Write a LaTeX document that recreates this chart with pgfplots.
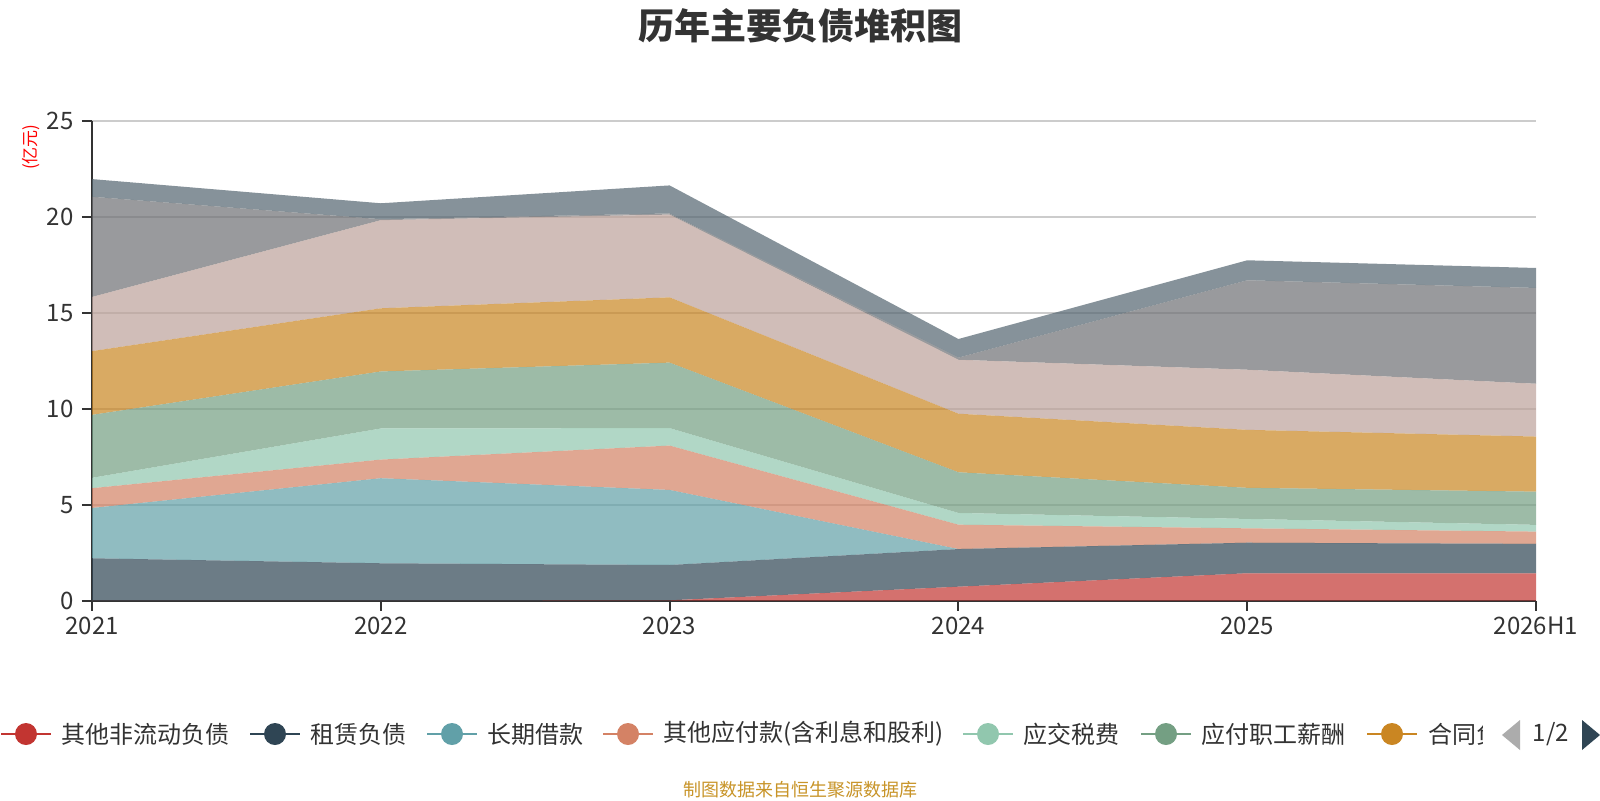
\documentclass[border=0pt]{standalone}
\usepackage{fontspec}
\setmainfont{Noto Sans CJK SC}
\usepackage{pgfplots}
\pgfplotsset{compat=1.18}
\definecolor{s1}{HTML}{C23531}
\definecolor{s2}{HTML}{2F4554}
\definecolor{s3}{HTML}{61A0A8}
\definecolor{s4}{HTML}{D48265}
\definecolor{s5}{HTML}{91C7AE}
\definecolor{s6}{HTML}{749F83}
\definecolor{s7}{HTML}{CA8622}
\definecolor{s8}{HTML}{BDA29A}
\definecolor{s9}{HTML}{6E7074}
\definecolor{s10}{HTML}{546570}
\definecolor{txt}{HTML}{333333}
\definecolor{gridc}{HTML}{CCCCCC}
\definecolor{foot}{RGB}{200,148,40}
\begin{document}
\begin{tikzpicture}
\path[fill=white] (0,0) rectangle (800pt,-400pt);
\path[use as bounding box] (0,0) rectangle (800pt,-400pt);
\begin{axis}[
  at={(46pt,-300.35pt)}, anchor=south west,
  scale only axis, width=722pt, height=240pt,
  xmin=0, xmax=5, ymin=0, ymax=25,
  xtick={0,1,2,3,4,5},
  xticklabels={2021,2022,2023,2024,2025,2026H1},
  ytick={0,5,10,15,20,25},
  axis x line*=bottom, axis y line*=left,
  axis line style={draw=txt, line width=1pt, -},
  tick align=outside, major tick length=5pt,
  tick style={draw=txt, line width=1pt},
  ymajorgrids, grid style={draw=gridc, line width=1pt},
  /pgf/number format/assume math mode=true,
  tick label style={font=\fontsize{12pt}{14pt}\selectfont, text=txt},
  yticklabel style={anchor=east, inner sep=0pt, xshift=-4pt},
  xticklabel style={anchor=north, inner sep=0pt, yshift=-3pt},
  stack plots=y,
  every axis plot/.append style={draw=none, fill opacity=0.7},
]
\addplot[fill=s1] coordinates {(0,0) (1,0) (2,0.02) (3,0.73) (4,1.43) (5,1.43)} \closedcycle;
\addplot[fill=s2] coordinates {(0,2.21) (1,1.95) (2,1.84) (3,1.96) (4,1.59) (5,1.53)} \closedcycle;
\addplot[fill=s3] coordinates {(0,2.62) (1,4.43) (2,3.91) (3,0) (4,0) (5,0)} \closedcycle;
\addplot[fill=s4] coordinates {(0,1.03) (1,0.97) (2,2.31) (3,1.27) (4,0.75) (5,0.64)} \closedcycle;
\addplot[fill=s5] coordinates {(0,0.54) (1,1.62) (2,0.91) (3,0.61) (4,0.49) (5,0.35)} \closedcycle;
\addplot[fill=s6] coordinates {(0,3.28) (1,2.97) (2,3.41) (3,2.12) (4,1.62) (5,1.73)} \closedcycle;
\addplot[fill=s7] coordinates {(0,3.32) (1,3.29) (2,3.40) (3,3.05) (4,3.02) (5,2.87)} \closedcycle;
\addplot[fill=s8] coordinates {(0,2.82) (1,4.59) (2,4.31) (3,2.81) (4,3.13) (5,2.75)} \closedcycle;
\addplot[fill=s9] coordinates {(0,5.22) (1,0.05) (2,0.06) (3,0.11) (4,4.66) (5,4.99)} \closedcycle;
\addplot[fill=s10] coordinates {(0,0.92) (1,0.83) (2,1.46) (3,0.97) (4,1.04) (5,1.04)} \closedcycle;
\end{axis}
% title
\node[font=\fontsize{18pt}{20pt}\selectfont\bfseries, text=txt] at (400pt,-12.75pt) {历年主要负债堆积图};
% unit label
\node[rotate=90, font=\fontsize{8.5pt}{10pt}\selectfont, text=red] at (15.5pt,-73.5pt) {(亿元)};
% legend
\def\ly{-367pt}
\foreach \c/\cx/\t in {s1/26/其他非流动负债, s2/275/租赁负债, s3/452/长期借款, s4/628/其他应付款(含利息和股利), s5/988/应交税费, s6/1166/应付职工薪酬}{
  \draw[\c, line width=1pt] ({(\cx-25)*0.5pt},\ly) -- ({(\cx+25)*0.5pt},\ly);
  \fill[\c] ({\cx*0.5pt},\ly) circle (5.5pt);
  \node[anchor=west, inner sep=0pt, font=\fontsize{12pt}{14pt}\selectfont, text=txt] at ({(\cx+35)*0.5pt},\ly) {\t};
}
\draw[s7, line width=1pt] (683.5pt,\ly) -- (708.5pt,\ly);
\fill[s7] (696pt,\ly) circle (5.5pt);
\begin{scope}
\clip (713pt,-350pt) rectangle (741pt,-385pt);
\node[anchor=west, inner sep=0pt, font=\fontsize{12pt}{14pt}\selectfont, text=txt] at (714pt,\ly) {合同负债};
\end{scope}
\fill[gray!65] (760pt,-360pt) -- (760pt,-375pt) -- (751pt,-367.5pt) -- cycle;
\node[font=\fontsize{12pt}{14pt}\selectfont, text=txt] at (775.5pt,\ly) {1/2};
\fill[s2] (791pt,-360pt) -- (791pt,-375pt) -- (800pt,-367.5pt) -- cycle;
% footer
\node[font=\fontsize{9pt}{11pt}\selectfont, text=foot] at (400pt,-395pt) {制图数据来自恒生聚源数据库};
\end{tikzpicture}
\end{document}
